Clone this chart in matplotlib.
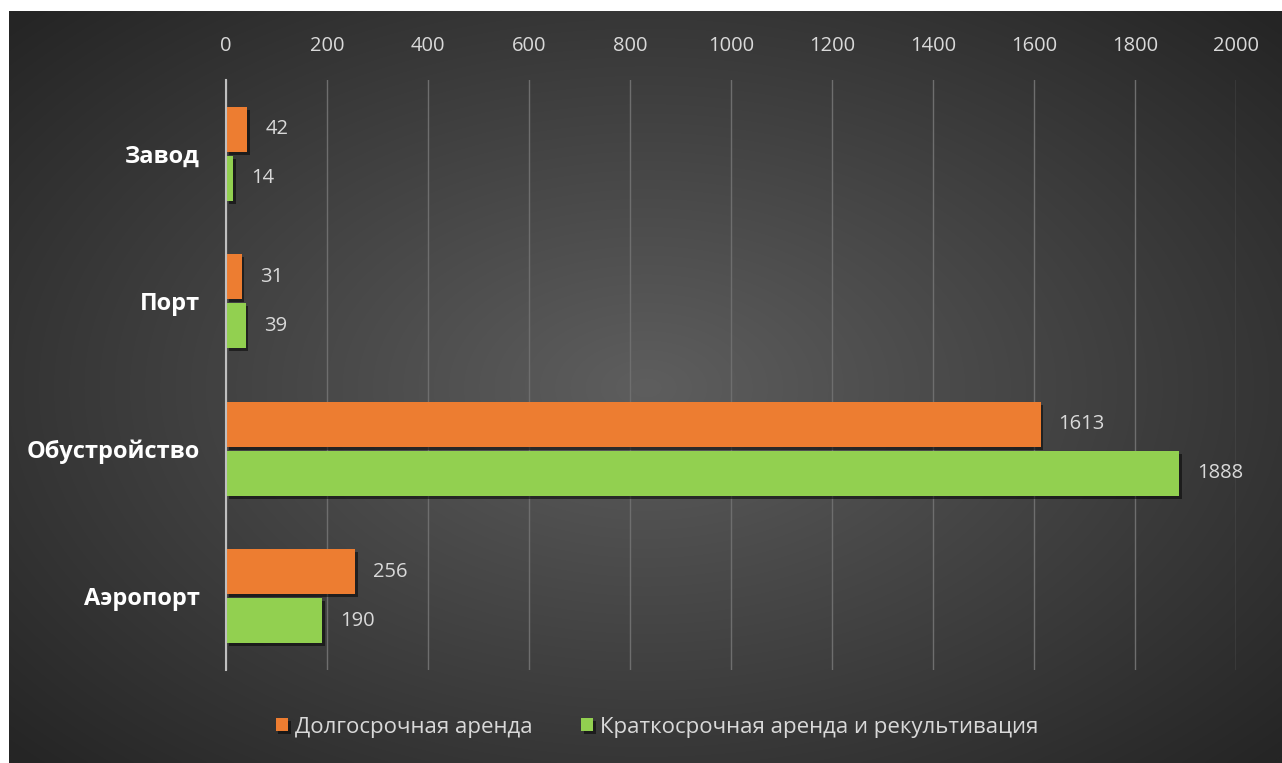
import numpy as np
import matplotlib.pyplot as plt
import matplotlib.patheffects as pe

# --- Data ---
categories = ["Завод", "Порт", "Обустройство", "Аэропорт"]
long_term = [42, 31, 1613, 256]
short_term = [14, 39, 1888, 190]
series_names = ["Долгосрочная аренда", "Краткосрочная аренда и рекультивация"]
x_ticks = [0, 200, 400, 600, 800, 1000, 1200, 1400, 1600, 1800, 2000]

orange = "#ED7D31"
green = "#92D050"
txt = "#D9D9D9"

plt.rcParams["font.family"] = ["Open Sans", "DejaVu Sans"]

fig = plt.figure(figsize=(12.82, 7.63), dpi=100)
fig.patch.set_facecolor("white")

# --- Radial gradient background ---
bg = fig.add_axes([9 / 1282, 0, 1 - 9 / 1282, 1 - 11 / 763])
bg.set_axis_off()
yy, xx = np.mgrid[0:400, 0:700]
cx, cy = 350, 200
r = np.sqrt(((xx - cx) / 700) ** 2 + ((yy - cy) / 400) ** 2 * 0.9)
r = np.clip(r / 0.68, 0, 1)
c0 = np.array([0x5e, 0x5e, 0x5e]) / 255
c1 = np.array([0x25, 0x25, 0x25]) / 255
img = c0[None, None, :] * (1 - r[..., None]) + c1[None, None, :] * r[..., None]
bg.imshow(img, aspect="auto", extent=[0, 1, 0, 1], interpolation="bilinear")

# --- Main chart ---
ax = fig.add_axes([226 / 1282, 1 - 670 / 763, (1236 - 226) / 1282, (670 - 80) / 763])
ax.set_facecolor("none")

y = np.arange(len(categories))
h = 0.305
gap = 0.027
shadow = [pe.SimplePatchShadow(offset=(2, -2), shadow_rgbFace="black", alpha=0.5), pe.Normal()]

b1 = ax.barh(y - (h + gap) / 2, long_term, height=h, color=orange, label=series_names[0], zorder=3)
b2 = ax.barh(y + (h + gap) / 2, short_term, height=h, color=green, label=series_names[1], zorder=3)
for bars in (b1, b2):
    for p in bars:
        p.set_path_effects(shadow)
    ax.bar_label(bars, padding=13, color=txt, fontsize=14.5)

ax.set_xlim(0, 2000)
ax.set_ylim(len(categories) - 0.5, -0.5)
ax.set_yticks(y)
ax.set_yticklabels(categories, color="white", fontsize=17, fontweight="bold")
ax.set_xticks(x_ticks)
ax.xaxis.tick_top()
ax.tick_params(axis="x", length=0, pad=17, colors=txt, labelsize=14.5)
ax.tick_params(axis="y", length=0, pad=19)

ax.grid(axis="x", color="#6e6e6e", linewidth=1, zorder=0)
for s in ["top", "right", "bottom"]:
    ax.spines[s].set_visible(False)
ax.spines["left"].set_color("#BFBFBF")
ax.spines["left"].set_linewidth(1.5)
ax.spines["left"].set_zorder(4)

leg = fig.legend(loc="center", bbox_to_anchor=(657 / 1282, 1 - 727 / 763), ncol=2,
                 frameon=False, fontsize=16, handlelength=0.55, handleheight=0.55,
                 handletextpad=0.3, columnspacing=2.2)
for t in leg.get_texts():
    t.set_color(txt)

fig.savefig("out.png", dpi=100)
